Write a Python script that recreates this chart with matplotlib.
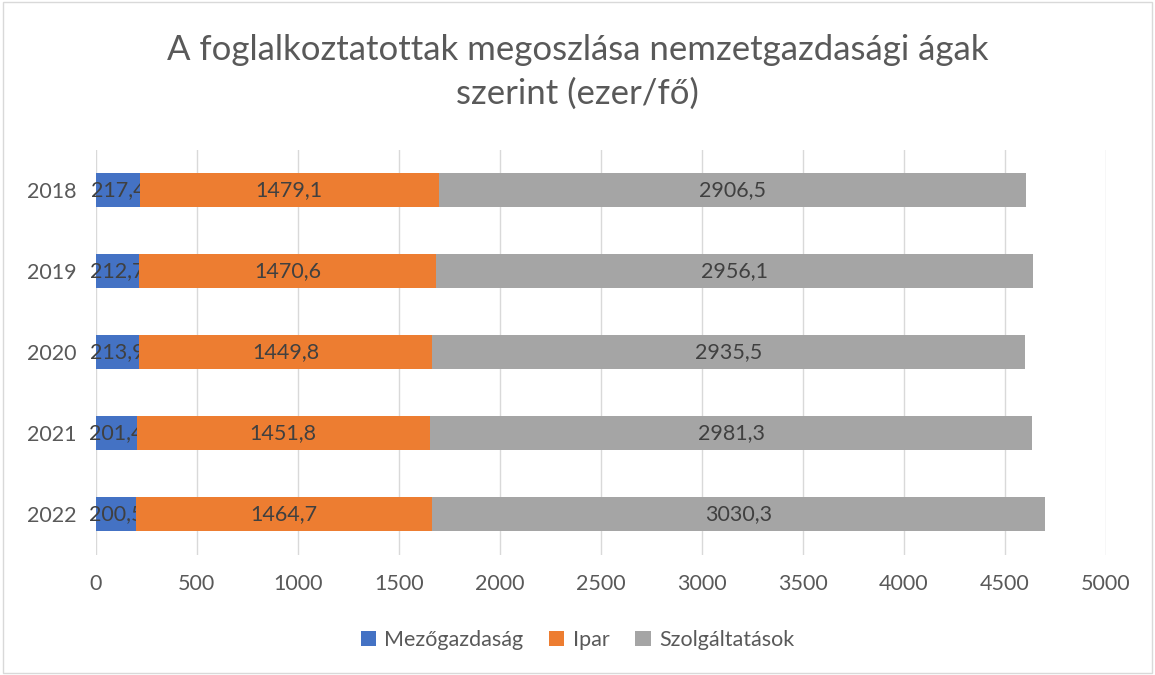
import numpy as np
import matplotlib
matplotlib.use('Agg')
import matplotlib.pyplot as plt

plt.rcParams['font.family'] = ['Lato', 'DejaVu Sans']

years = ['2018', '2019', '2020', '2021', '2022']
mezogazdasag = [217.4, 212.7, 213.9, 201.4, 200.5]
ipar = [1479.1, 1470.6, 1449.8, 1451.8, 1464.7]
szolg = [2906.5, 2956.1, 2935.5, 2981.3, 3030.3]
series_names = ['Mezőgazdaság', 'Ipar', 'Szolgáltatások']
colors = ['#4472C4', '#ED7D31', '#A5A5A5']

fig = plt.figure(figsize=(11.55, 6.75), dpi=100)
ax = fig.add_axes([0.083, 0.178, 0.8746, 0.6])

y = np.arange(len(years))[::-1]
left = np.zeros(len(years))
for vals, name, c in zip([mezogazdasag, ipar, szolg], series_names, colors):
    bars = ax.barh(y, vals, left=left, height=0.42, color=c, label=name, zorder=3)
    labels = [('%.1f' % v).replace('.', ',') for v in vals]
    ax.bar_label(bars, labels=labels, label_type='center', fontsize=15.5, color='#404040')
    left = left + np.array(vals)

ax.set_xlim(0, 5000)
ax.set_ylim(-0.5, 4.5)
ax.set_xticks(range(0, 5001, 500))
ax.set_yticks(y)
ax.set_yticklabels(years)
ax.tick_params(axis='both', length=0, labelsize=15.5, labelcolor='#595959')
ax.tick_params(axis='x', pad=14)
ax.tick_params(axis='y', pad=14)
ax.grid(axis='x', color='#D9D9D9', linewidth=1, zorder=0)
for s in ax.spines.values():
    s.set_visible(False)

fig.text(0.5, 0.893, 'A foglalkoztatottak megoszlása nemzetgazdasági ágak\nszerint (ezer/fő)',
         ha='center', va='center', fontsize=25, color='#595959', linespacing=1.45)

fig.legend(loc='center', bbox_to_anchor=(0.5, 0.052), ncol=3, frameon=False,
           fontsize=15.5, labelcolor='#595959', handlelength=0.7, handleheight=0.7,
           columnspacing=1.2, handletextpad=0.4)

fig.patches.append(plt.Rectangle((0.003, 0.003), 0.994, 0.994, transform=fig.transFigure,
                                 fill=False, edgecolor='#D9D9D9', linewidth=1))

fig.savefig('out.png', dpi=100)
